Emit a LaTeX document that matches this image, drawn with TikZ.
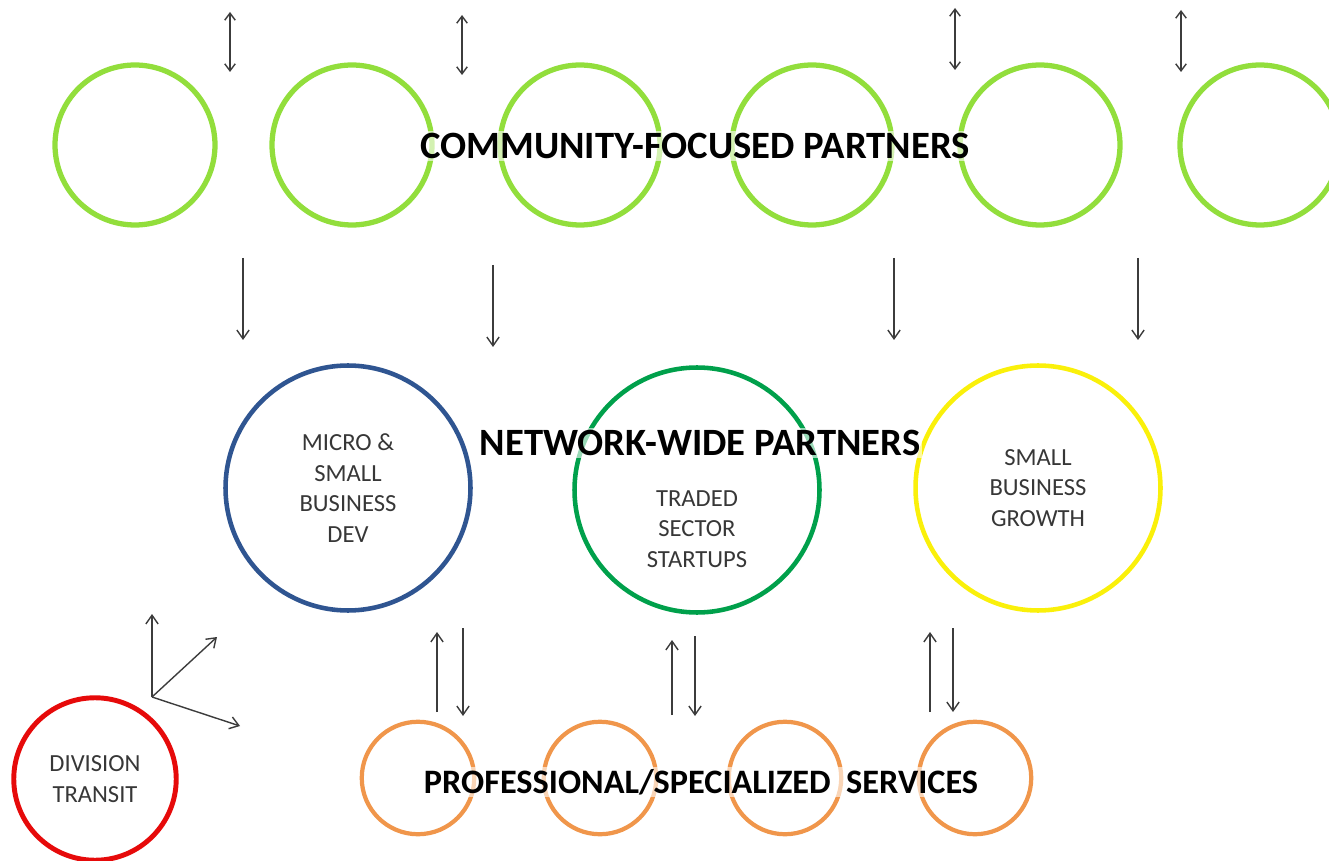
\documentclass[tikz,border=0pt]{standalone}
\usepackage{fontspec}
\setmainfont{Carlito}
\usetikzlibrary{arrows.meta,positioning}
\definecolor{commGreen}{RGB}{146,222,60}
\definecolor{devBlue}{RGB}{47,85,145}
\definecolor{startGreen}{RGB}{0,160,75}
\definecolor{growYellow}{RGB}{250,240,10}
\definecolor{proOrange}{RGB}{240,150,75}
\definecolor{transRed}{RGB}{230,10,10}
\definecolor{arrowGray}{RGB}{60,60,60}
\definecolor{textGray}{RGB}{55,55,55}

\begin{document}
\begin{tikzpicture}[x=0.02cm,y=-0.02cm,
    ring/.style={circle,draw=#1,inner sep=0pt},
    comm/.style={ring=commGreen,line width=3pt,minimum size=3.2cm},
    hub/.style={ring=#1,line width=2.6pt,minimum size=4.9cm,
                font=\fontsize{14}{17.5}\selectfont,text=textGray,align=center},
    pro/.style={ring=proOrange,line width=2.4pt,minimum size=2.25cm},
    title/.style={font=\fontsize{22}{26}\selectfont\bfseries,
                  fill=white,fill opacity=0.6,text opacity=1,inner sep=1pt},
    flow/.style={arrowGray,line width=0.8pt,-{Straight Barb[length=5pt,width=7pt]}},
    both/.style={arrowGray,line width=0.8pt,
                 {Straight Barb[length=4pt,width=6pt]}-{Straight Barb[length=4pt,width=6pt]}}]

    \useasboundingbox (0,0) rectangle (1329,861);

    % community-focused partners
    \foreach \x [count=\i] in {135,352,580,812,1040,1260} {
      \node[comm] (c\i) at (\x,145) {};
    }
    \node[title] (commtitle) at (695,146) {COMMUNITY-FOCUSED PARTNERS};

    % two-way arrows above the top row
    \foreach \x/\t/\b [count=\i] in {230/12/72,462/15/75,955/8/70,1181/10/72} {
      \coordinate (tt\i) at (\x,\t);
      \coordinate (tb\i) at (\x,\b);
      \draw[both] (tt\i) -- (tb\i);
    }

    % down arrows to the hubs
    \foreach \x/\t/\b [count=\i] in {243/258/340,493/265/347,894/258/340,1138/258/340} {
      \coordinate (ds\i) at (\x,\t);
      \coordinate (de\i) at (\x,\b);
      \draw[flow] (ds\i) -- (de\i);
    }

    % network-wide partners
    \node[hub=devBlue] (micro) at (348,488) {MICRO \&\\SMALL\\BUSINESS\\DEV};
    \node[hub=startGreen] (traded) at (697,490) {};
    \node[font=\fontsize{14}{17.5}\selectfont,text=textGray,align=center]
      (tradedtxt) at (697,529) {TRADED\\SECTOR\\STARTUPS};
    \node[hub=growYellow] (growth) at (1038,488) {SMALL\\BUSINESS\\GROWTH};
    \node[title] (nettitle) at (700,443) {NETWORK-WIDE PARTNERS};

    % up/down pairs between hubs and services
    \foreach \u/\d/\ut/\ub/\dt/\db [count=\i] in
        {437/463/632/712/628/716,672/695/640/715/636/716,930/953/632/712/628/712} {
      \coordinate (us\i) at (\u,\ub);
      \coordinate (ue\i) at (\u,\ut);
      \coordinate (vs\i) at (\d,\dt);
      \coordinate (ve\i) at (\d,\db);
      \draw[flow] (us\i) -- (ue\i);
      \draw[flow] (vs\i) -- (ve\i);
    }

    % professional/specialized services
    \foreach \x [count=\i] in {418,600,785,975} {
      \node[pro] (p\i) at (\x,778) {};
    }
    \node[title,font=\fontsize{19.5}{23}\selectfont\bfseries]
      (protitle) at (701,782) {PROFESSIONAL/SPECIALIZED\ \ SERVICES};

    % transit
    \node[ring=transRed,line width=2.8pt,minimum size=3.25cm,
          font=\fontsize{14}{18}\selectfont,text=textGray,align=center]
      (transit) at (95,779) {DIVISION\\TRANSIT};
    \coordinate (fan) at (152,697);
    \coordinate (fanN) at (152,614);
    \coordinate (fanNE) at (217,637);
    \coordinate (fanE) at (240,726);
    \foreach \e in {fanN,fanNE,fanE} {
      \draw[flow] (fan) -- (\e);
    }
\end{tikzpicture}
\end{document}
